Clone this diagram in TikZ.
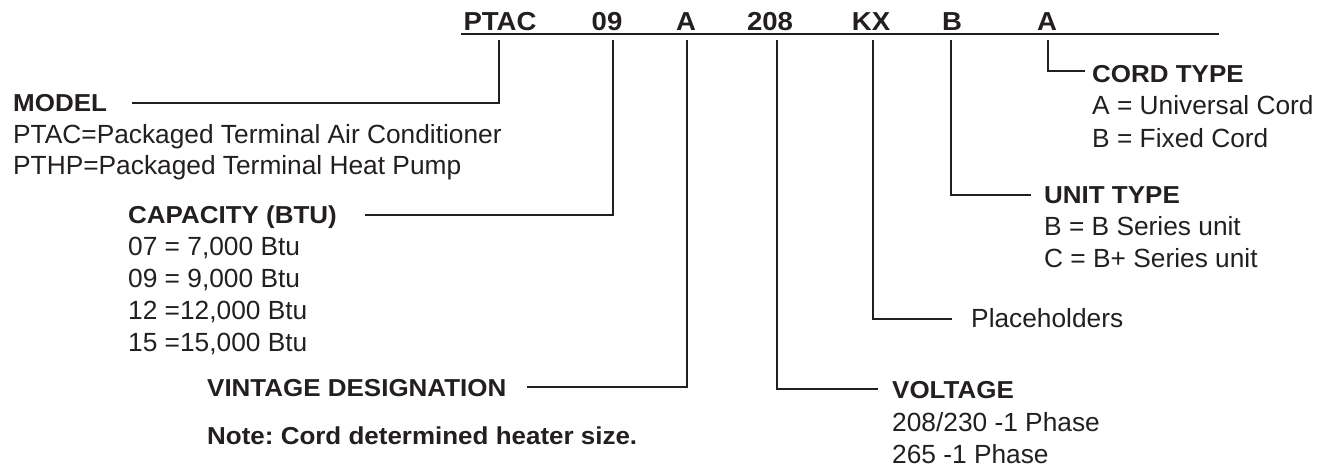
\documentclass[tikz,border=0pt]{standalone}
\usepackage{fontspec}
\setmainfont{Liberation Sans}[BoldFeatures={FakeStretch=1.06}]
\definecolor{ink}{HTML}{231F20}
\frenchspacing
\begin{document}
\begin{tikzpicture}[x=1pt,y=-1pt,
  txt/.style={inner sep=0pt, anchor=base west, font=\fontsize{26.3}{30}\selectfont, text=ink},
  head/.style={txt, font=\fontsize{24.5}{29}\selectfont\bfseries},
  code/.style={inner sep=0pt, anchor=base, font=\fontsize{26}{30}\selectfont\bfseries, text=ink},
  wire/.style={draw=ink, line width=2.2pt}]
\useasboundingbox (0,0) rectangle (1332,468);

% model code
\node[code] (c1) at (500,31) {PTAC};
\node[code] (c2) at (607,31) {09};
\node[code] (c3) at (686,31) {A};
\node[code] (c4) at (770,31) {208};
\node[code] (c5) at (871,31) {KX};
\node[code] (c6) at (952,31) {B};
\node[code] (c7) at (1047,31) {A};
\coordinate (ulA) at (461,34);
\coordinate (ulB) at (1219,34);
\draw[wire] (ulA) -- (ulB);

% left labels
\node[head] (model) at (13,112) {MODEL};
\node[txt] (m1) at (13,143) {PTAC=Packaged Terminal Air Conditioner};
\node[txt] (m2) at (13,174) {PTHP=Packaged Terminal Heat Pump};

\node[head] (cap) at (128,223) {CAPACITY (BTU)};
\node[txt] (k1) at (128,255) {07 = 7,000 Btu};
\node[txt] (k2) at (128,287) {09 = 9,000 Btu};
\node[txt] (k3) at (128,319) {12 =12,000 Btu};
\node[txt] (k4) at (128,351) {15 =15,000 Btu};

\node[head] (vint) at (207,396) {VINTAGE DESIGNATION};
\node[head] (note) at (207,444) {Note: Cord determined heater size.};

% right labels
\node[head] (cord) at (1092,83) {CORD TYPE};
\node[txt] (d1) at (1092,115) {A = Universal Cord};
\node[txt] (d2) at (1092,147) {B = Fixed Cord};

\node[head] (unit) at (1044,203) {UNIT TYPE};
\node[txt] (u1) at (1044,235) {B = B Series unit};
\node[txt] (u2) at (1044,267) {C = B+ Series unit};

\node[txt] (ph) at (971,327) {Placeholders};

\node[head] (volt) at (892,398) {VOLTAGE};
\node[txt] (v1) at (892,431) {208/230 -1 Phase};
\node[txt] (v2) at (892,463) {265 -1 Phase};

% connector start points under each code
\coordinate (s1) at (499,40);
\coordinate (s2) at (613,40);
\coordinate (s3) at (687,40);
\coordinate (s4) at (777,40);
\coordinate (s5) at (873,40);
\coordinate (s6) at (951,40);
\coordinate (s7) at (1048,40);
% connector ends beside each label
\coordinate (e1) at (132,103);
\coordinate (e2) at (365,215);
\coordinate (e3) at (527,387);
\coordinate (e4) at (878,389);
\coordinate (e5) at (952,319);
\coordinate (e6) at (1031,195);
\coordinate (e7) at (1085,71);

\draw[wire] (s1) |- (e1);
\draw[wire] (s2) |- (e2);
\draw[wire] (s3) |- (e3);
\draw[wire] (s4) |- (e4);
\draw[wire] (s5) |- (e5);
\draw[wire] (s6) |- (e6);
\draw[wire] (s7) |- (e7);
\end{tikzpicture}
\end{document}
